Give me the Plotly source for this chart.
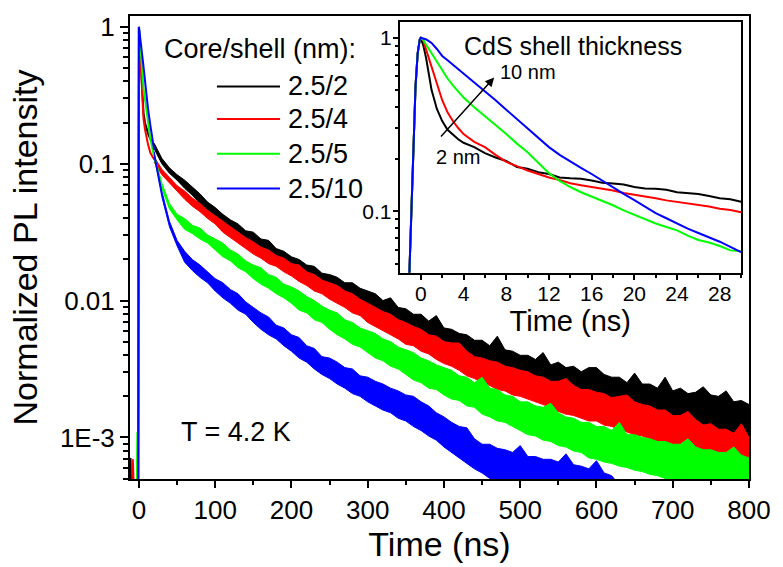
import plotly.graph_objects as go

# ---------------- data (log10 of normalized intensity) ----------------
SERIES = ["2.5/2", "2.5/4", "2.5/5", "2.5/10"]
COLORS = ["#000000", "#ff0000", "#00ff00", "#0000ff"]

# early part of the main decay (rise + fast component)
T_EARLY = [-12, -11, -10, -9, -8, -7, -6, -5, -4, -3, -2, -1, 0, 1, 2, 3, 4, 5, 6, 8, 10, 12, 15, 20]
BLACK_EARLY = [-3.5, -3.15, -3.5, -3.5, -3.5, -3.5, -3.5, -3.5, -3.5, -3.5, -3.5, -3.5, 0.0, -0.12, -0.24, -0.35, -0.46, -0.56, -0.63, -0.70, -0.75, -0.78, -0.82, -0.87]
RED_EARLY = [-3.5, -3.5, -3.5, -3.5, -3.16, -3.5, -3.5, -3.5, -3.5, -3.5, -3.5, -3.5, 0.0, -0.12, -0.25, -0.37, -0.49, -0.60, -0.67, -0.75, -0.81, -0.86, -0.92, -0.97]
GREEN_EARLY = [-3.5, -3.5, -3.5, -3.5, -3.5, -3.5, -3.5, -3.5, -3.5, -3.5, -2.96, -3.5, 0.0, -0.08, -0.16, -0.25, -0.33, -0.40, -0.45, -0.53, -0.62, -0.70, -0.82, -0.95]
BLUE_EARLY = [-3.5, -3.5, -3.5, -3.5, -3.5, -3.5, -3.5, -3.5, -3.5, -3.5, -3.5, -3.5, 0.0, -0.04, -0.09, -0.14, -0.19, -0.24, -0.29, -0.40, -0.52, -0.60, -0.72, -0.90]

# noisy tail: upper / lower envelope of the measured trace, every 10 ns
T_BAND = [20, 30, 40, 50, 60, 70, 80, 90, 100, 110, 120, 130, 140, 150, 160, 170, 180, 190, 200, 210,
          220, 230, 240, 250, 260, 270, 280, 290, 300, 310, 320, 330, 340, 350, 360, 370, 380, 390, 400, 410,
          420, 430, 440, 450, 460, 470, 480, 490, 500, 510, 520, 530, 540, 550, 560, 570, 580, 590, 600, 610,
          620, 630, 640, 650, 660, 670, 680, 690, 700, 710, 720, 730, 740, 750, 760, 770, 780, 790, 800]

BLACK_UP = [-0.85, -0.96, -1.03, -1.08, -1.12, -1.17, -1.22, -1.28, -1.32, -1.37,
            -1.41, -1.44, -1.49, -1.50, -1.55, -1.56, -1.62, -1.64, -1.68, -1.70,
            -1.74, -1.75, -1.80, -1.81, -1.83, -1.87, -1.87, -1.91, -1.93, -1.95,
            -2.00, -1.98, -2.05, -2.06, -2.10, -2.10, -2.15, -2.11, -2.20, -2.21,
            -2.24, -2.25, -2.29, -2.29, -2.33, -2.26, -2.36, -2.37, -2.40, -2.40,
            -2.43, -2.38, -2.47, -2.45, -2.49, -2.48, -2.52, -2.49, -2.49, -2.54,
            -2.56, -2.56, -2.60, -2.53, -2.61, -2.61, -2.64, -2.56, -2.66, -2.64,
            -2.68, -2.67, -2.63, -2.69, -2.70, -2.66, -2.74, -2.73, -2.76]
BLACK_LO = [-0.89, -1.00, -1.07, -1.12, -1.18, -1.23, -1.29, -1.34, -1.39, -1.45,
            -1.49, -1.53, -1.56, -1.59, -1.64, -1.66, -1.70, -1.74, -1.77, -1.81,
            -1.85, -1.87, -1.91, -1.92, -1.96, -2.00, -2.01, -2.04, -2.06, -2.10,
            -2.13, -2.15, -2.18, -2.21, -2.25, -2.27, -2.31, -2.33, -2.35, -2.39,
            -2.40, -2.44, -2.45, -2.48, -2.50, -2.53, -2.55, -2.56, -2.59, -2.61,
            -2.62, -2.65, -2.66, -2.68, -2.70, -2.71, -2.73, -2.75, -2.76, -2.78,
            -2.79, -2.81, -2.82, -2.83, -2.85, -2.86, -2.87, -2.89, -2.89, -2.91,
            -2.92, -2.93, -2.94, -2.96, -2.97, -2.98, -2.99, -3.00, -3.01]

RED_UP = [-0.95, -1.04, -1.10, -1.16, -1.20, -1.25, -1.29, -1.34, -1.38, -1.42,
          -1.46, -1.50, -1.54, -1.57, -1.61, -1.63, -1.67, -1.69, -1.73, -1.74,
          -1.79, -1.81, -1.85, -1.87, -1.89, -1.93, -1.95, -1.99, -2.02, -2.05,
          -2.08, -2.10, -2.14, -2.16, -2.19, -2.21, -2.25, -2.26, -2.30, -2.31,
          -2.31, -2.37, -2.41, -2.42, -2.44, -2.45, -2.48, -2.49, -2.51, -2.52,
          -2.55, -2.56, -2.59, -2.59, -2.57, -2.62, -2.65, -2.65, -2.67, -2.68,
          -2.71, -2.70, -2.69, -2.74, -2.76, -2.77, -2.80, -2.80, -2.84, -2.84,
          -2.81, -2.87, -2.91, -2.90, -2.94, -2.94, -2.97, -2.90, -3.00]
RED_LO = [-0.99, -1.08, -1.14, -1.20, -1.26, -1.31, -1.35, -1.40, -1.44, -1.50,
          -1.54, -1.58, -1.62, -1.66, -1.69, -1.73, -1.75, -1.79, -1.82, -1.86,
          -1.89, -1.93, -1.95, -1.99, -2.02, -2.05, -2.09, -2.11, -2.16, -2.19,
          -2.22, -2.25, -2.28, -2.32, -2.33, -2.37, -2.39, -2.43, -2.46, -2.48,
          -2.51, -2.55, -2.57, -2.60, -2.62, -2.65, -2.66, -2.69, -2.70, -2.72,
          -2.74, -2.76, -2.78, -2.81, -2.83, -2.84, -2.86, -2.88, -2.88, -2.91,
          -2.92, -2.94, -2.96, -2.98, -2.99, -3.01, -3.03, -3.06, -3.07, -3.10,
          -3.10, -3.13, -3.14, -3.16, -3.17, -3.20, -3.20, -3.23, -3.25]

GREEN_UP = [-0.93, -1.14, -1.29, -1.37, -1.40, -1.45, -1.47, -1.52, -1.55, -1.58,
            -1.63, -1.66, -1.71, -1.74, -1.76, -1.81, -1.83, -1.88, -1.90, -1.93,
            -1.97, -2.00, -2.04, -2.07, -2.09, -2.14, -2.16, -2.20, -2.22, -2.24,
            -2.28, -2.30, -2.34, -2.36, -2.38, -2.42, -2.44, -2.47, -2.49, -2.51,
            -2.55, -2.56, -2.60, -2.56, -2.64, -2.65, -2.69, -2.70, -2.74, -2.74,
            -2.77, -2.78, -2.75, -2.82, -2.85, -2.86, -2.89, -2.89, -2.92, -2.92,
            -2.95, -2.89, -2.98, -2.98, -3.00, -3.01, -3.03, -3.03, -3.05, -3.05,
            -3.01, -3.07, -3.09, -3.09, -3.11, -3.11, -3.07, -3.13, -3.15]
GREEN_LO = [-0.97, -1.18, -1.33, -1.41, -1.48, -1.51, -1.55, -1.58, -1.63, -1.68,
            -1.71, -1.76, -1.79, -1.84, -1.88, -1.91, -1.95, -1.98, -2.02, -2.07,
            -2.09, -2.14, -2.16, -2.21, -2.25, -2.28, -2.32, -2.34, -2.38, -2.42,
            -2.44, -2.48, -2.50, -2.54, -2.58, -2.60, -2.64, -2.65, -2.69, -2.72,
            -2.73, -2.77, -2.78, -2.83, -2.85, -2.88, -2.89, -2.92, -2.95, -2.98,
            -2.99, -3.02, -3.03, -3.06, -3.07, -3.10, -3.11, -3.15, -3.16, -3.18,
            -3.19, -3.21, -3.22, -3.24, -3.25, -3.27, -3.28, -3.30, -3.30, -3.32,
            -3.32, -3.34, -3.34, -3.36, -3.36, -3.38, -3.38, -3.40, -3.40]

# blue sinks below the axis floor after ~630 ns
BLUE_UP = [-0.91, -1.20, -1.42, -1.56, -1.64, -1.70, -1.74, -1.79, -1.84, -1.87,
           -1.92, -1.95, -2.01, -2.05, -2.09, -2.12, -2.18, -2.20, -2.25, -2.27,
           -2.33, -2.35, -2.41, -2.42, -2.45, -2.49, -2.50, -2.55, -2.56, -2.59,
           -2.61, -2.64, -2.66, -2.69, -2.70, -2.74, -2.77, -2.82, -2.85, -2.89,
           -2.92, -2.93, -3.01, -3.05, -3.05, -3.08, -3.09, -3.11, -3.06, -3.14,
           -3.14, -3.16, -3.16, -3.18, -3.12, -3.20, -3.21, -3.23, -3.17, -3.26,
           -3.28, -3.35]
BLUE_LO = [-0.95, -1.24, -1.46, -1.60, -1.72, -1.78, -1.83, -1.87, -1.93, -1.98,
           -2.02, -2.07, -2.10, -2.16, -2.21, -2.25, -2.28, -2.33, -2.37, -2.42,
           -2.45, -2.50, -2.54, -2.57, -2.61, -2.64, -2.68, -2.70, -2.74, -2.77,
           -2.80, -2.82, -2.86, -2.88, -2.92, -2.95, -2.99, -3.02, -3.07, -3.11,
           -3.15, -3.19, -3.23, -3.26, -3.30, -3.31, -3.34, -3.34, -3.36, -3.37,
           -3.38, -3.39, -3.40, -3.41, -3.42, -3.43, -3.44, -3.45, -3.46, -3.47,
           -3.48, -3.50]

# inset: first 30 ns
T_IN = [-1.1, -0.9, -0.7, -0.5, -0.3, -0.1, 0, 0.25, 0.5, 0.75, 1, 1.5, 2, 2.5, 3, 3.5, 4,
        5, 6, 7, 8, 9, 10, 11, 12, 13, 14, 15, 16, 17, 18, 19, 20, 21, 22, 23, 24, 25, 26, 27, 28, 29, 30]
BLACK_IN = [-1.40, -1.05, -0.62, -0.28, -0.09, -0.01, 0.0,
            -0.05, -0.12, -0.21, -0.30, -0.41, -0.48, -0.53, -0.56, -0.585, -0.605,
            -0.63, -0.665, -0.69, -0.71, -0.745, -0.755, -0.775, -0.785, -0.805, -0.81, -0.812, -0.823,
            -0.835, -0.84, -0.845, -0.86, -0.868, -0.87, -0.876, -0.89, -0.893, -0.90, -0.912, -0.925, -0.93, -0.945]
RED_IN = [-1.40, -1.05, -0.62, -0.28, -0.09, -0.01, 0.0,
          -0.02, -0.07, -0.12, -0.17, -0.26, -0.36, -0.43, -0.48, -0.52, -0.555,
          -0.60, -0.63, -0.675, -0.715, -0.74, -0.765, -0.785, -0.805, -0.82, -0.838, -0.85, -0.86,
          -0.872, -0.88, -0.895, -0.905, -0.912, -0.925, -0.937, -0.945, -0.955, -0.96, -0.972, -0.985, -0.992, -1.005]
GREEN_IN = [-1.40, -1.05, -0.62, -0.28, -0.09, -0.01, 0.0,
            -0.015, -0.04, -0.065, -0.09, -0.14, -0.19, -0.235, -0.275, -0.31, -0.345,
            -0.40, -0.45, -0.50, -0.555, -0.61, -0.66, -0.72, -0.78, -0.825, -0.86, -0.89, -0.915,
            -0.94, -0.965, -0.995, -1.02, -1.045, -1.07, -1.09, -1.11, -1.14, -1.165, -1.18, -1.20, -1.225, -1.23]
BLUE_IN = [-1.40, -1.05, -0.62, -0.28, -0.09, -0.01, 0.0,
           -0.003, -0.01, -0.02, -0.03, -0.065, -0.105, -0.13, -0.155, -0.18, -0.205,
           -0.255, -0.31, -0.36, -0.415, -0.47, -0.525, -0.58, -0.63, -0.675, -0.715, -0.75, -0.785,
           -0.825, -0.865, -0.90, -0.935, -0.975, -1.01, -1.04, -1.07, -1.10, -1.125, -1.15, -1.175, -1.205, -1.235]

MAIN_XTICKS = [0, 100, 200, 300, 400, 500, 600, 700, 800]
MAIN_YTICKS = [1e-3, 1e-2, 1e-1, 1]
MAIN_YTICKTEXT = ["1E-3", "0.01", "0.1", "1"]
IN_XTICKS = [0, 4, 8, 12, 16, 20, 24, 28]
IN_YTICKS = [0.1, 1]
IN_YTICKTEXT = ["0.1", "1"]

# ---------------- figure ----------------
def lin(v):
    return [10 ** a for a in v]

FONT = "Liberation Sans, Arial, sans-serif"
fig = go.Figure()

early = [BLACK_EARLY, RED_EARLY, GREEN_EARLY, BLUE_EARLY]
ups = [BLACK_UP, RED_UP, GREEN_UP, BLUE_UP]
los = [BLACK_LO, RED_LO, GREEN_LO, BLUE_LO]
insets = [BLACK_IN, RED_IN, GREEN_IN, BLUE_IN]

for name, col, e, up, lo in zip(SERIES, COLORS, early, ups, los):
    tb = T_BAND[:len(up)]
    fig.add_trace(go.Scatter(x=tb + tb[::-1], y=lin(up) + lin(lo)[::-1], fill="toself",
                             fillcolor=col, mode="lines", line=dict(color=col, width=1),
                             showlegend=False, hoverinfo="skip", xaxis="x", yaxis="y"))
    fig.add_trace(go.Scatter(x=T_EARLY, y=lin(e), mode="lines", name=name,
                             line=dict(color=col, width=2), showlegend=False,
                             xaxis="x", yaxis="y"))

for name, col, v in zip(SERIES, COLORS, insets):
    fig.add_trace(go.Scatter(x=T_IN, y=lin(v), mode="lines", name=name,
                             line=dict(color=col, width=2), showlegend=False,
                             xaxis="x2", yaxis="y2"))

main_minor_y = [m * 10 ** d for d in (-4, -3, -2, -1) for m in range(2, 10)]
in_minor_y = [m * 10 ** d for d in (-2, -1) for m in range(2, 10)]

axis_common = dict(showgrid=False, zeroline=False, showline=True, linecolor="black",
                   mirror=True, ticks="outside", tickcolor="black")

fig.update_layout(
    width=783, height=567,
    margin=dict(l=130, r=26, t=14, b=86),
    paper_bgcolor="white", plot_bgcolor="white",
    font=dict(family=FONT, color="black"),
    xaxis=dict(axis_common, range=[-11.7, 800], tickvals=MAIN_XTICKS, linewidth=2,
               ticklen=7, tickwidth=2, tickfont=dict(size=26),
               minor=dict(tickvals=[50, 150, 250, 350, 450, 550, 650, 750], ticks="outside",
                          ticklen=4, tickwidth=2, tickcolor="black"),
               title=dict(text="Time (ns)", font=dict(size=34), standoff=6)),
    yaxis=dict(axis_common, type="log", range=[-3.304, 0.0797], tickvals=MAIN_YTICKS,
               ticktext=MAIN_YTICKTEXT, linewidth=2, ticklen=8, tickwidth=2,
               tickfont=dict(size=26), ticklabelstandoff=0,
               minor=dict(tickvals=main_minor_y, ticks="outside", ticklen=5, tickwidth=2,
                          tickcolor="black"),
               title=dict(text="Normalized PL intensity", font=dict(size=34), standoff=12)),
    xaxis2=dict(axis_common, domain=[0.4354, 0.9872], anchor="y2", range=[-2, 30],
                tickvals=IN_XTICKS, linewidth=1.5, ticklen=5, tickwidth=1.5,
                tickfont=dict(size=21), ticklabelstandoff=-4,
                minor=dict(tickvals=[2, 6, 10, 14, 18, 22, 26, 30], ticks="outside", ticklen=3,
                           tickwidth=1.5, tickcolor="black"),
                title=dict(text="Time (ns)", font=dict(size=29), standoff=0)),
    yaxis2=dict(axis_common, domain=[0.4454, 0.9872], anchor="x2", type="log",
                range=[-1.354, 0.091], tickvals=IN_YTICKS, ticktext=IN_YTICKTEXT,
                linewidth=1.5, ticklen=5, tickwidth=1.5, tickfont=dict(size=21),
                ticklabelstandoff=-3,
                minor=dict(tickvals=in_minor_y, ticks="outside", ticklen=3, tickwidth=1.5,
                           tickcolor="black")),
)

# legend drawn by hand (Origin style)
leg_rows = [0.848, 0.7773, 0.7024, 0.6274]
fig.add_annotation(text="Core/shell (nm):", xref="paper", yref="paper", x=0.051, y=0.9293,
                   xanchor="left", yanchor="middle", showarrow=False, font=dict(size=27))
for name, col, yy in zip(SERIES, COLORS, leg_rows):
    fig.add_shape(type="line", xref="paper", yref="paper", x0=0.1404, x1=0.2424, y0=yy, y1=yy,
                  line=dict(color=col, width=2))
    fig.add_annotation(text=name, xref="paper", yref="paper", x=0.252, y=yy, xanchor="left",
                       yanchor="middle", showarrow=False, font=dict(size=27))

fig.add_annotation(text="T = 4.2 K", xref="x", yref="y", x=53, y=-2.957, xanchor="left",
                   yanchor="middle", showarrow=False, font=dict(size=27))

# inset annotations
fig.add_annotation(text="CdS shell thickness", xref="x2", yref="y2", x=14.3, y=-0.046,
                   xanchor="center", yanchor="middle", showarrow=False, font=dict(size=25))
fig.add_annotation(text="10 nm", xref="x2", yref="y2", x=7.2, y=-0.2, xanchor="left",
                   yanchor="middle", showarrow=False, font=dict(size=20))
fig.add_annotation(text="2 nm", xref="x2", yref="y2", x=1.2, y=-0.686, xanchor="left",
                   yanchor="middle", showarrow=False, font=dict(size=20))
fig.add_annotation(x=6.87, y=-0.229, ax=1.76, ay=-0.577, xref="x2", yref="y2",
                   axref="x2", ayref="y2", showarrow=True, arrowhead=2, arrowsize=1.2,
                   arrowwidth=1.5, arrowcolor="black", text="")

fig.write_html("out.html")
